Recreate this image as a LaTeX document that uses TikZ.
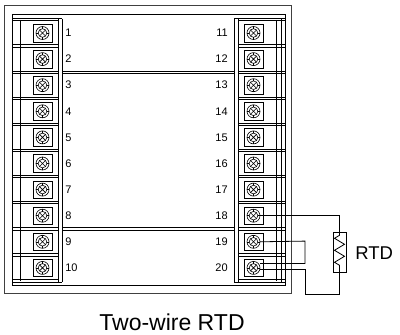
\documentclass[tikz,border=0pt]{standalone}
\usepackage{fontspec}
\setmainfont{Liberation Sans}
\begin{document}
\begin{tikzpicture}[x=1pt,y=-1pt,line width=0.6pt,
  frame/.style={draw=black!75,line width=0.9pt},
  wire/.style={draw=black,line width=0.8pt},
  num/.style={font=\fontsize{11}{11}\selectfont,inner sep=0pt},
  screw/.pic={
    \draw (-9.5,-8.8) rectangle (9.5,8.8);
    \draw (0,0) circle (6.5);
    \draw (0,0) circle (4.3);
    \draw (-3,-3)--(3,3) (-3,3)--(3,-3);
    \draw (0,-6.5)--(0,-4.3) (0,6.5)--(0,4.3) (-6.5,0)--(-4.3,0) (6.5,0)--(4.3,0);
  }]
\useasboundingbox (0,0) rectangle (400,335);
% outer frame
\draw[frame] (4.5,5) rectangle (291.5,293.5);
% inner rectangle
\draw (12,14) rectangle (285,285.7);
% strip outlines
\draw (12,18.5) -- (62,18.5);
\draw (234,18.5) -- (285,18.5);
\draw (58,18.5) -- (58,282) (62,18.5) -- (62,282);
\draw (238,18.5) -- (238,282) (234,18.5) -- (234,282);
\draw (276,19.8) -- (276,280.8) (281,18.5) -- (281,282);
\draw (20,19.8) -- (20,280.8);
\draw (12,282) -- (62,282) (234,282) -- (285,282);
% separators
\foreach \k in {1,...,10}{
  \pgfmathsetmacro\ys{19.8+26.1*\k}
  \draw (12,\ys-1.2) -- (58,\ys-1.2) (12,\ys+1.2) -- (58,\ys+1.2);
  \draw (238,\ys-1.2) -- (285,\ys-1.2) (238,\ys+1.2) -- (285,\ys+1.2);
}
\draw (12,19.8) -- (58,19.8) (238,19.8) -- (285,19.8);
% cross lines
\foreach \ys in {72,228.6}{
  \draw (62,\ys-1.2) -- (234,\ys-1.2) (62,\ys+1.2) -- (234,\ys+1.2);
}
% terminals
\foreach \i in {1,...,10}{
  \pgfmathsetmacro\yc{33+26.1*(\i-1)}
  \pic at (42.5,\yc) {screw};
  \pic at (253.5,\yc) {screw};
  \node[num,anchor=west] (L\i) at (65,\yc) {\i};
  \pgfmathtruncatemacro\j{\i+10}
  \node[num,anchor=east] (R\j) at (228,\yc) {\j};
  \coordinate (t\j) at (260,\yc);
}
% RTD
\node[draw,line width=0.8pt,minimum width=13pt,minimum height=40pt,inner sep=0pt] (rtd) at (339.5,252.7) {};
\draw[line width=0.8pt] (rtd.north) -- ++(0,3) -- ++(-5,3) -- ++(10,6) -- ++(-10,6) -- ++(10,6) -- ++(-10,6) -- ++(5,3) -- (rtd.south);
\node[font=\fontsize{18.5}{18.5}\selectfont,anchor=west,inner sep=0pt] (lab) at (355,253) {RTD};
% wiring
\draw[wire] (t18) -| (rtd.north);
\coordinate (j19) at (305,241.1);
\coordinate (j20) at (260,263.5);
\coordinate (k20) at (260,269.5);
\draw[wire] (t19) -- (j19) |- (j20);
\draw[wire] (k20) -| (305,294) -| (rtd.south);
% title
\node[font=\fontsize{23}{23}\selectfont,inner sep=0pt] (title) at (172,322) {Two-wire RTD};
\end{tikzpicture}
\end{document}
